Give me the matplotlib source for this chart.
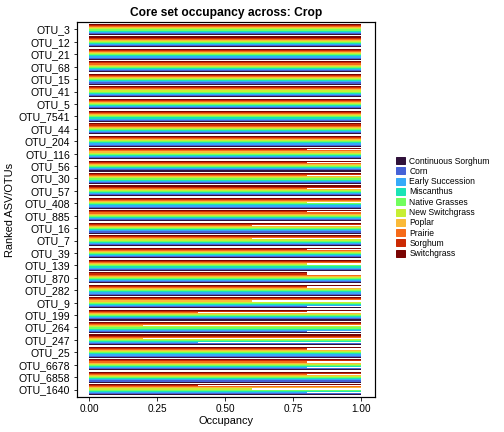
import numpy as np
import matplotlib
matplotlib.use('Agg')
import matplotlib.pyplot as plt
from matplotlib.patches import Patch

plt.rcParams['font.family'] = ['Liberation Sans', 'DejaVu Sans']

# OTUs top to bottom
otus = ['OTU_3', 'OTU_12', 'OTU_21', 'OTU_68', 'OTU_15', 'OTU_41', 'OTU_5',
        'OTU_7541', 'OTU_44', 'OTU_204', 'OTU_116', 'OTU_56', 'OTU_30',
        'OTU_57', 'OTU_408', 'OTU_885', 'OTU_16', 'OTU_7', 'OTU_39',
        'OTU_139', 'OTU_870', 'OTU_282', 'OTU_9', 'OTU_199', 'OTU_264',
        'OTU_247', 'OTU_25', 'OTU_6678', 'OTU_6858', 'OTU_1640']

crops = ['Continuous Sorghum', 'Corn', 'Early Succession', 'Miscanthus',
         'Native Grasses', 'New Switchgrass', 'Poplar', 'Prairie',
         'Sorghum', 'Switchgrass']
colors = ['#30123B', '#4662D7', '#36AAF9', '#1AE4B6', '#72FE5E',
          '#C7EF34', '#FABA39', '#F66B19', '#CB2A04', '#7A0403']

# occupancy below 1.0, per OTU: {crop index: value}
lower = {
    'OTU_116': {8: 0.8}, 'OTU_56': {8: 0.8}, 'OTU_30': {7: 0.8},
    'OTU_57': {7: 0.8}, 'OTU_408': {5: 0.8}, 'OTU_885': {8: 0.8},
    'OTU_16': {7: 0.6}, 'OTU_7': {6: 0.6}, 'OTU_39': {8: 0.8},
    'OTU_139': {6: 0.8, 5: 0.8}, 'OTU_870': {9: 0.8, 8: 0.8},
    'OTU_282': {7: 0.8, 8: 0.8}, 'OTU_9': {6: 0.6, 1: 0.8},
    'OTU_199': {8: 0.8, 7: 0.4}, 'OTU_264': {6: 0.2, 1: 0.8},
    'OTU_247': {6: 0.2, 2: 0.4}, 'OTU_25': {8: 0.8, 7: 0.8},
    'OTU_6678': {7: 0.8, 2: 0.8}, 'OTU_6858': {7: 0.8},
    'OTU_1640': {8: 0.4, 5: 0.6, 2: 0.8},
}

fig = plt.figure(figsize=(7, 6), dpi=72)
ax = fig.add_axes([0.153, 0.081, 0.591, 0.868])

n = len(crops)
w = 0.88 / n
ypos = np.arange(len(otus))[::-1]
for j, crop in enumerate(crops):
    vals = [lower.get(o, {}).get(j, 1.0) for o in otus]
    ax.barh(ypos - 0.44 + w * (j + 0.5), vals, height=w, color=colors[j])

ax.set_yticks(ypos)
ax.set_yticklabels(otus, fontsize=10.5)
ax.set_ylim(-0.6, len(otus) - 0.4)
ax.set_xlim(-0.044, 1.051)
ax.set_xticks([0, 0.25, 0.5, 0.75, 1.0])
ax.set_xticklabels(['0.00', '0.25', '0.50', '0.75', '1.00'], fontsize=10)
ax.set_xlabel('Occupancy', fontsize=11, labelpad=2)
ax.set_ylabel('Ranked ASV/OTUs', fontsize=11)
ax.set_title('Core set occupancy across: Crop', fontsize=12, fontweight='bold')
for s in ax.spines.values():
    s.set_linewidth(1.2)

handles = [Patch(color=c, label=l) for c, l in zip(colors, crops)]
fig.legend(handles=handles, loc='center left', bbox_to_anchor=(0.77, 0.52),
           frameon=False, fontsize=8.5, handlelength=1.1, handleheight=0.9,
           labelspacing=0.15, handletextpad=0.5)

fig.savefig('out.png', dpi=72)
